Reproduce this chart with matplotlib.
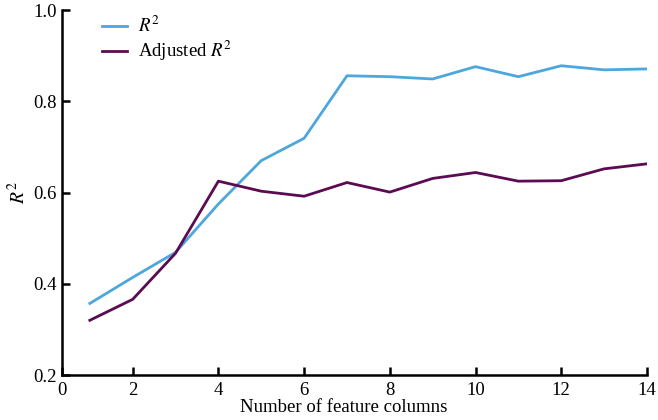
import matplotlib.pyplot as plt
import numpy as np

plt.rcParams["font.family"] = ["Liberation Serif", "DejaVu Serif"]
plt.rcParams["mathtext.fontset"] = "stix"

n_features = np.arange(1, 15)
r2 = [0.357, 0.414, 0.469, 0.575, 0.670, 0.719, 0.856, 0.854, 0.849,
      0.876, 0.854, 0.878, 0.869, 0.871]
adj_r2 = [0.320, 0.366, 0.467, 0.625, 0.603, 0.592, 0.622, 0.601, 0.631,
          0.644, 0.625, 0.626, 0.652, 0.663]

xticks = [0.35, 2, 4, 6, 8, 10, 12, 14]
xtick_labels = ["0", "2", "4", "6", "8", "10", "12", "14"]
yticks = [0.2, 0.4, 0.6, 0.8, 1.0]

fig = plt.figure(figsize=(6.58, 4.2), dpi=100)
ax = fig.add_axes([0.0942, 0.107, 0.889, 0.869])

ax.plot(n_features, r2, color="#4ea6de", lw=2.0, label="$R^2$")
ax.plot(n_features, adj_r2, color="#5c0b52", lw=2.0, label="Adjusted $R^2$")

ax.set_xlim(0.35, 14)
ax.set_ylim(0.2, 1.0)
ax.set_xticks(xticks, xtick_labels)
ax.set_yticks(yticks, [f"{v:.1f}" for v in yticks])

for side in ("top", "right"):
    ax.spines[side].set_visible(False)
for side in ("left", "bottom"):
    ax.spines[side].set_linewidth(1.8)
ax.tick_params(direction="in", length=6, width=1.8, labelsize=13.5, pad=4)
ax.tick_params(axis="x", pad=5)

ax.set_xlabel("Number of feature columns", fontsize=13.5, labelpad=0, x=0.481)
ax.set_ylabel("$R^2$", fontsize=14, labelpad=3)

ax.legend(loc="upper left", bbox_to_anchor=(0.04, 1.03), frameon=False,
          fontsize=13.5, handlelength=1.3, handletextpad=0.6, labelspacing=0.15)

fig.savefig("out.png", dpi=100)
